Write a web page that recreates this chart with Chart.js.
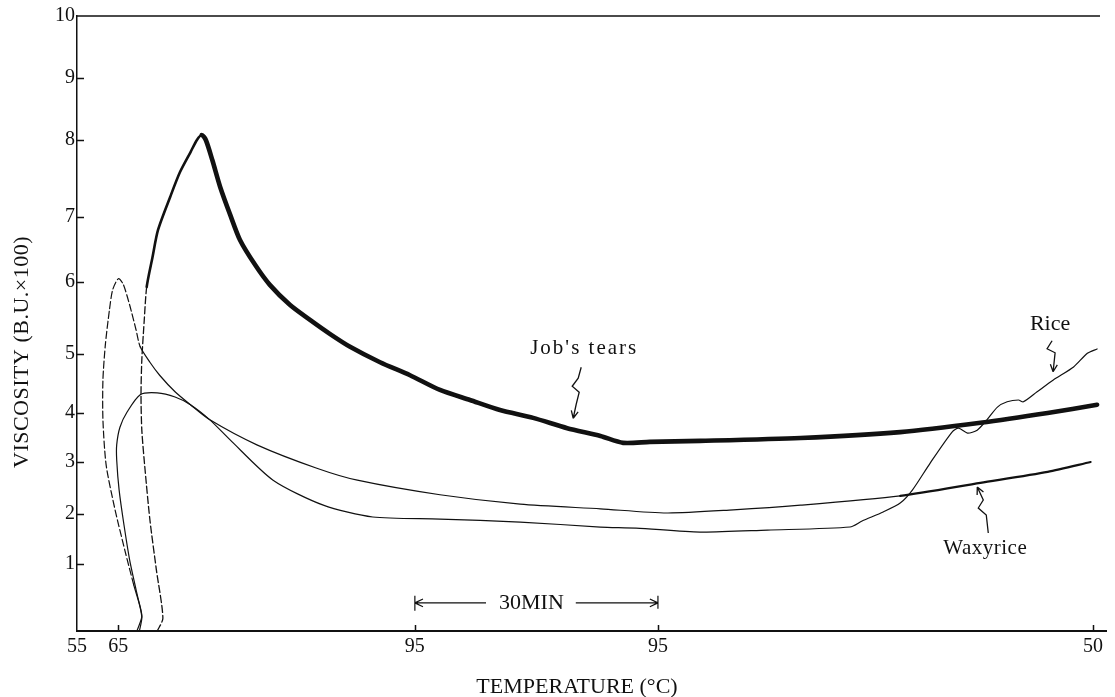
<!DOCTYPE html>
<html>
<head>
<meta charset="utf-8">
<title>Amylogram</title>
<script src="https://cdn.jsdelivr.net/npm/chart.js@4.4.0/dist/chart.umd.min.js"></script>
<style>
  html, body { margin: 0; padding: 0; background: #fff; }
  canvas { display: block; }
</style>
</head>
<body>
<canvas id="amylogram" width="1115" height="697"></canvas>
<script>
// x = recorder time in minutes from the 55 °C start; the two 95 marks are the 30 min hold
const xTickPositions = [0, 5.1, 41.7, 71.7, 125.4];
const xTickLabels = ['55', '65', '95', '95', '50'];
const yTickValues = [1, 2, 3, 4, 5, 6, 7, 8, 9, 10];
const yTickLabels = ['1', '2', '3', '4', '5', '6', '7', '8', '9', '10'];

// viscosity in B.U. x 100
const waxyX = [7.4, 8.0, 7.8, 7.0, 5.9, 4.7, 3.6, 3.2, 3.2, 3.5, 4.0, 4.4, 5.1, 5.7, 6.5, 7.3, 7.8, 9.0, 10.2, 12.1,
               14.0, 16.4, 22.2, 29.6, 34.6, 44.8, 54.7, 64.6, 72.8, 81.0, 89.3, 101.6, 111.5, 119.8, 125.1];
const waxyY = [0, 0.21, 0.36, 0.69, 1.28, 2.08, 2.94, 3.86, 4.56, 5.13, 5.61, 5.89, 6.05, 5.97, 5.68, 5.33, 5.10, 4.86, 4.64, 4.36,
               4.14, 3.86, 3.35, 2.88, 2.65, 2.37, 2.19, 2.10, 2.02, 2.08, 2.17, 2.35, 2.60, 2.81, 3.00];

const riceX = [7.7, 8.0, 7.3, 6.5, 5.8, 5.2, 4.9, 4.9, 5.3, 6.2, 7.8, 9.9, 12.1, 14.0, 16.4, 18.9, 24.2, 30.4, 36.5, 44.8,
               54.7, 64.6, 69.0, 76.9, 85.2, 95.4, 96.9, 99.5, 101.6, 103.1, 105.3, 108.0, 108.8, 109.9, 111.1, 112.3,
               113.6, 114.8, 116.2, 116.8, 118.5, 120.5, 123.0, 124.7, 125.9];
const riceY = [0, 0.21, 0.61, 1.08, 1.78, 2.46, 3.04, 3.35, 3.71, 4.02, 4.31, 4.34, 4.27, 4.14, 3.86, 3.45, 2.65, 2.17, 1.94, 1.90,
               1.84, 1.74, 1.72, 1.64, 1.68, 1.74, 1.86, 2.04, 2.21, 2.46, 2.98, 3.61, 3.69, 3.59, 3.65, 3.86,
               4.10, 4.19, 4.22, 4.19, 4.36, 4.56, 4.78, 5.01, 5.07];

const jobsX = [9.9, 10.6, 9.8, 9.0, 8.4, 8.0, 7.9, 8.0, 8.3, 8.6, 9.3, 10.0, 11.5, 12.7, 14.0, 14.8, 15.4, 15.9, 16.7, 17.7,
               18.9, 20.1, 22.0, 23.8, 26.3, 28.8, 31.2, 33.7, 37.4, 41.1, 44.8, 48.5, 52.2, 56.3, 60.5, 64.6, 67.4, 70.7,
               76.9, 89.3, 101.6, 111.5, 119.8, 125.9];
const jobsY = [0, 0.19, 0.91, 1.88, 2.85, 3.65, 4.31, 4.90, 5.47, 5.93, 6.37, 6.80, 7.26, 7.58, 7.84, 8.00, 8.08, 8.00, 7.74, 7.38,
               7.03, 6.65, 6.26, 5.96, 5.68, 5.47, 5.28, 5.10, 4.86, 4.64, 4.39, 4.22, 4.05, 3.90, 3.69, 3.53, 3.39, 3.41,
               3.43, 3.49, 3.61, 3.80, 4.00, 4.14];

// curve labels, anchored in data units
const noteText = ["Job's tears", 'Rice', 'Waxyrice'];
const noteX = [62.6, 120.1, 112.1];
const noteY = [5.08, 5.42, 1.32];
const holdText = '30MIN';

// the printed viscosity divisions are not evenly spaced on the paper
const yGridFrac = [0, 0.1089, 0.1902, 0.2748, 0.3545, 0.4504, 0.5675, 0.6732, 0.7984, 0.8992, 1];

const ink = '#111';
const serif = '"Liberation Serif", "DejaVu Serif", serif';

class WarpedScale extends Chart.LinearScale {
    warpFraction(v) {
        const n = yGridFrac.length - 1;
        if (v <= 0) return v * yGridFrac[1];
        if (v >= n) return 1 + (v - n) * (1 - yGridFrac[n - 1]);
        const i = Math.floor(v);
        return yGridFrac[i] + (v - i) * (yGridFrac[i + 1] - yGridFrac[i]);
    }
    getPixelForValue(value) {
        return this.bottom - this.warpFraction(value) * (this.bottom - this.top);
    }
    getValueForPixel(pixel) {
        const f = (this.bottom - pixel) / (this.bottom - this.top);
        for (let i = 0; i < yGridFrac.length - 1; i++) {
            if (f <= yGridFrac[i + 1]) return i + (f - yGridFrac[i]) / (yGridFrac[i + 1] - yGridFrac[i]);
        }
        return yGridFrac.length - 1;
    }
}
WarpedScale.id = 'warped';
WarpedScale.defaults = Chart.LinearScale.defaults;
Chart.register(WarpedScale);

function points(xs, ys) {
    return xs.map((x, i) => ({ x: x, y: ys[i] }));
}

function arrowHead(ctx, fx, fy, tx, ty, size) {
    const a = Math.atan2(ty - fy, tx - fx);
    ctx.moveTo(tx, ty);
    ctx.lineTo(tx - size * Math.cos(a - 0.45), ty - size * Math.sin(a - 0.45));
    ctx.moveTo(tx, ty);
    ctx.lineTo(tx - size * Math.cos(a + 0.45), ty - size * Math.sin(a + 0.45));
}

// little hand-drawn squiggle arrows under / over each label (pixel offsets from the label)
const squiggles = [
    [[-3, 19], [-6, 30], [-12, 38], [-5, 44], [-8, 56], [-11, 70]],
    [[2, 17], [-3, 25], [5, 29], [3, 48]],
    [[3, -15], [1, -33], [-7, -40], [-2, -48], [-8, -61]]
];
const noteLetterSpacing = ['2px', '0px', '0.5px'];

const paperPlugin = {
    id: 'paper',
    afterDatasetsDraw(chart) {
        const { ctx, chartArea: a, scales: { x, y } } = chart;
        ctx.save();
        ctx.strokeStyle = ink;
        ctx.fillStyle = ink;

        // top edge + inward tick marks
        ctx.lineWidth = 1.5;
        ctx.beginPath();
        ctx.moveTo(a.left, a.top);
        ctx.lineTo(a.right - 6, a.top);
        yTickValues.slice(0, -1).forEach(v => {
            const py = Math.round(y.getPixelForValue(v)) + 0.5;
            ctx.moveTo(a.left, py);
            ctx.lineTo(a.left + 7, py);
        });
        xTickPositions.slice(1).forEach(v => {
            const px = Math.round(x.getPixelForValue(v)) + 0.5;
            ctx.moveTo(px, a.bottom);
            ctx.lineTo(px, a.bottom - 6);
        });
        ctx.stroke();

        // 30 min hold arrow between the two 95 marks
        const x0 = x.getPixelForValue(xTickPositions[2]);
        const x1 = x.getPixelForValue(xTickPositions[3]);
        const yh = y.getPixelForValue(0.42);
        ctx.font = '22px ' + serif;
        ctx.textAlign = 'center';
        ctx.textBaseline = 'middle';
        const tw = ctx.measureText(holdText).width;
        const xm = (x0 + x1) / 2 - 5;
        ctx.lineWidth = 1.2;
        ctx.beginPath();
        ctx.moveTo(x0, yh - 7); ctx.lineTo(x0, yh + 8);
        ctx.moveTo(x1, yh - 7); ctx.lineTo(x1, yh + 6);
        ctx.moveTo(x0, yh); ctx.lineTo(xm - tw / 2 - 13, yh);
        ctx.moveTo(xm + tw / 2 + 12, yh); ctx.lineTo(x1, yh);
        arrowHead(ctx, x0 + 20, yh, x0, yh, 9);
        arrowHead(ctx, x1 - 20, yh, x1, yh, 9);
        ctx.stroke();
        ctx.fillText(holdText, xm, yh);

        // curve labels
        noteText.forEach((t, i) => {
            const px = x.getPixelForValue(noteX[i]);
            const py = y.getPixelForValue(noteY[i]);
            ctx.font = (i === 1 ? '22px ' : '21px ') + serif;
            ctx.letterSpacing = noteLetterSpacing[i];
            ctx.fillText(t, px, py);
            const s = squiggles[i];
            ctx.lineWidth = 1.3;
            ctx.beginPath();
            ctx.moveTo(px + s[0][0], py + s[0][1]);
            for (let k = 1; k < s.length; k++) ctx.lineTo(px + s[k][0], py + s[k][1]);
            const p = s[s.length - 2], q = s[s.length - 1];
            arrowHead(ctx, px + p[0], py + p[1], px + q[0], py + q[1], 8);
            ctx.stroke();
        });
        ctx.letterSpacing = '0px';

        // axis titles
        ctx.font = '22px ' + serif;
        ctx.fillText('TEMPERATURE (°C)', 577, 687);
        ctx.translate(22, 352);
        ctx.rotate(-Math.PI / 2);
        ctx.letterSpacing = '0.5px';
        ctx.fillText('VISCOSITY (B.U.×100)', 0, 0);
        ctx.restore();
    }
};

const lineBase = {
    showLine: true,
    pointRadius: 0,
    borderColor: ink,
    borderJoinStyle: 'round',
    borderCapStyle: 'round',
    tension: 0.25,
    fill: false
};

new Chart(document.getElementById('amylogram'), {
    type: 'scatter',
    data: {
        datasets: [
            Object.assign({}, lineBase, {
                label: 'Waxyrice',
                data: points(waxyX, waxyY),
                borderWidth: 1.2,
                segment: {
                    borderWidth: c => c.p0DataIndex >= 31 ? 2.2 : undefined,
                    borderDash: c => (c.p0DataIndex >= 3 && c.p0DataIndex < 16) ? [7, 3] : undefined
                }
            }),
            Object.assign({}, lineBase, {
                label: 'Rice',
                data: points(riceX, riceY),
                borderWidth: 1.2
            }),
            Object.assign({}, lineBase, {
                label: "Job's tears",
                data: points(jobsX, jobsY),
                borderWidth: 4.6,
                segment: {
                    borderWidth: c => c.p0DataIndex < 9 ? 1.3 : (c.p0DataIndex < 16 ? 2.6 : undefined),
                    borderDash: c => c.p0DataIndex < 9 ? [7, 3] : undefined
                }
            })
        ]
    },
    options: {
        responsive: false,
        animation: false,
        layout: { padding: { top: 16, right: 9, left: 0, bottom: 0 } },
        plugins: {
            legend: { display: false },
            tooltip: { enabled: false }
        },
        scales: {
            x: {
                type: 'linear',
                min: 0,
                max: 127,
                afterFit: s => { s.height = 66; },
                afterBuildTicks: s => { s.ticks = xTickPositions.map(v => ({ value: v })); },
                grid: { drawOnChartArea: false, drawTicks: false },
                border: { display: true, color: ink, width: 2 },
                ticks: {
                    autoSkip: false,
                    maxRotation: 0,
                    padding: 4,
                    color: ink,
                    font: { family: serif, size: 20 },
                    callback: (v, i) => xTickLabels[i]
                }
            },
            y: {
                type: 'warped',
                min: 0,
                max: 10,
                afterFit: s => { s.width = 77; },
                afterBuildTicks: s => { s.ticks = yTickValues.map(v => ({ value: v })); },
                grid: { drawOnChartArea: false, drawTicks: false },
                border: { display: true, color: ink, width: 1.5 },
                ticks: {
                    autoSkip: false,
                    padding: 2,
                    color: ink,
                    font: { family: serif, size: 20 },
                    callback: (v, i) => yTickLabels[i]
                }
            }
        }
    },
    plugins: [paperPlugin]
});
</script>
</body>
</html>
